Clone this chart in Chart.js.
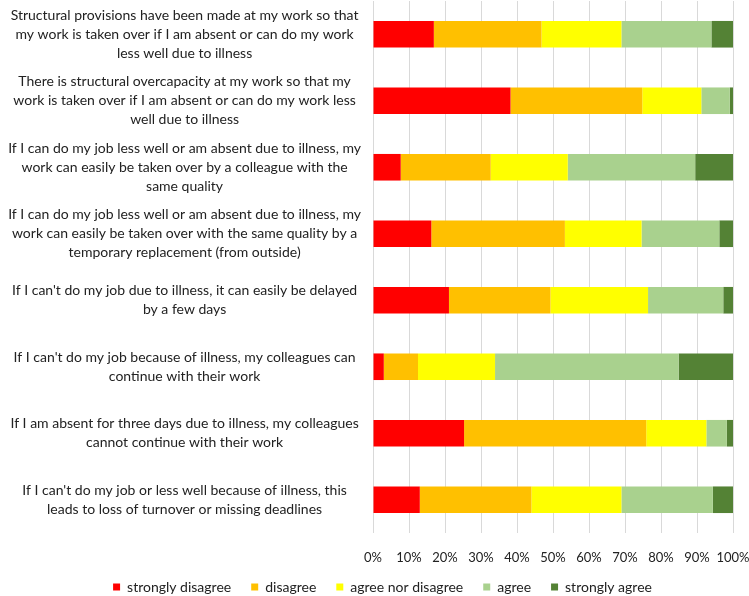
<!DOCTYPE html>
<html><head><meta charset="utf-8">
<script src="https://cdn.jsdelivr.net/npm/chart.js@4"></script>
<style>html,body{margin:0;padding:0;background:#fff}#wrap{width:749px;height:596px}</style>
</head><body><div id="wrap"><canvas id="c" width="749" height="596"></canvas></div>
<script>
const categories = [
  ["Structural provisions have been made at my work so that","my work is taken over if I am absent or can do my work","less well due to illness"],
  ["There is structural overcapacity at my work so that my","work is taken over if I am absent or can do my work less","well due to illness"],
  ["If I can do my job less well or am absent due to illness, my","work can easily be taken over by a colleague with the","same quality"],
  ["If I can do my job less well or am absent due to illness, my","work can easily be taken over with the same quality by a","temporary replacement (from outside)"],
  ["If I can't do my job due to illness, it can easily be delayed","by a few days"],
  ["If I can't do my job because of illness, my colleagues can","continue with their work"],
  ["If I am absent for three days due to illness, my colleagues","cannot continue with their work"],
  ["If I can't do my job or less well because of illness, this","leads to loss of turnover or missing deadlines"]
];
const seriesNames = ["strongly disagree","disagree","agree nor disagree","agree","strongly agree"];
const stronglyDisagree = [16.9, 38.2, 7.7, 16.2, 21.1, 3.0, 25.3, 13.0];
const disagree         = [29.9, 36.6, 25.0, 37.1, 28.2, 9.5, 50.6, 31.0];
const neutral          = [22.2, 16.4, 21.4, 21.3, 27.1, 21.4, 16.7, 25.0];
const agree            = [25.0, 7.9, 35.4, 21.6, 20.9, 51.0, 5.7, 25.4];
const stronglyAgree    = [6.0, 0.9, 10.5, 3.8, 2.7, 15.1, 1.7, 5.6];
const xTicks = [0,10,20,30,40,50,60,70,80,90,100];
const colors = ["#FF0000","#FFC000","#FFFF00","#A9D18E","#548235"];
const values = [stronglyDisagree, disagree, neutral, agree, stronglyAgree];

const FONT = "Lato";
const legendTweak = {
  id: 'legendTweak',
  beforeLayout(chart) {
    const l = chart.legend;
    if (l && !l._wrapped) {
      const orig = l.fit;
      l.fit = function() { orig.call(this); this.height = 31; };
      l._wrapped = true;
    }
  },
  afterLayout(chart) {
    const l = chart.legend;
    const dx = 8, dy = -5;
    l.left += dx; l.right += dx; l.top += dy;
  }
};
new Chart(document.getElementById('c'), {
  type: 'bar',
  data: {
    labels: categories,
    datasets: seriesNames.map((n,i)=>({label:n,data:values[i],backgroundColor:colors[i],borderWidth:0,categoryPercentage:1,barPercentage:0.4}))
  },
  options: {
    indexAxis: 'y',
    responsive: false,
    animation: false,
    layout: {padding: {top: 1, right: 0, left: 0, bottom: 0}},
    plugins: {
      legend: {
        position: 'bottom',
        labels: {boxWidth: 7, boxHeight: 7, padding: 20, color: '#222', font: {family: FONT, size: 14}}
      },
      tooltip: {enabled: false}
    },
    scales: {
      x: {
        stacked: true, min: 0, max: 100,
        afterBuildTicks: s => { s.ticks = xTicks.map(v=>({value:v})); },
        afterFit: s => { s.height = 32; s.paddingRight = 16; s.paddingLeft = 0; },
        grid: {color: '#d9d9d9', drawTicks: false, lineWidth: 1},
        border: {display: false},
        ticks: {autoSkip: false, padding: 17, color: '#222', font: {family: FONT, size: 13}, callback: v => v + '%', maxRotation: 0}
      },
      y: {
        stacked: true,
        afterFit: s => { s.width = 373; s.paddingTop = 0; s.paddingBottom = 0; },
        grid: {display: false, drawTicks: false},
        border: {display: false},
        ticks: {crossAlign: 'center', padding: 12, color: '#222', font: {family: FONT, size: 14, lineHeight: 1.36}}
      }
    }
  },
  plugins: [legendTweak]
});
</script></body></html>
